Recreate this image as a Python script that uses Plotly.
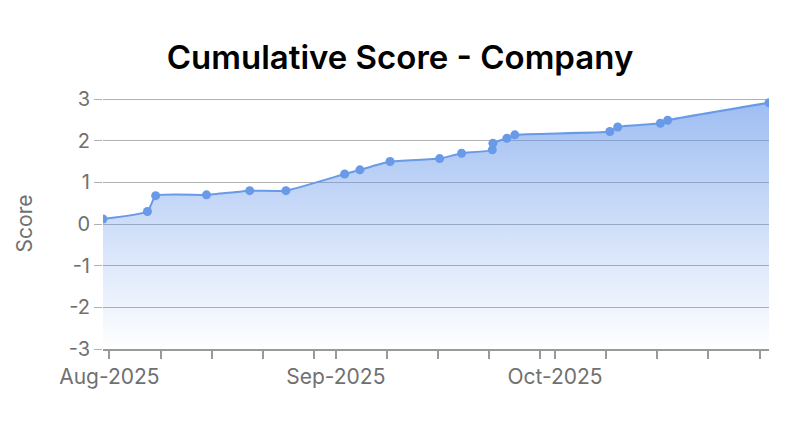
import plotly.graph_objects as go

# readings of the cumulative score
dates = ["2025-07-31 03:00", "2025-08-06 05:00", "2025-08-07 08:00", "2025-08-14 07:00",
         "2025-08-20 05:00", "2025-08-25 04:00", "2025-09-02 05:00", "2025-09-04 07:00",
         "2025-09-08 10:00", "2025-09-15 05:00", "2025-09-18 05:00", "2025-09-22 10:00",
         "2025-09-22 12:00", "2025-09-24 10:00", "2025-09-25 12:00", "2025-10-08 12:00",
         "2025-10-09 14:00", "2025-10-15 10:00", "2025-10-16 10:00", "2025-10-30 07:00"]
scores = [0.12, 0.3, 0.68, 0.7, 0.8, 0.8, 1.2, 1.3, 1.5, 1.57,
          1.7, 1.78, 1.94, 2.06, 2.14, 2.22, 2.33, 2.42, 2.49, 2.91]

# axis ticks: weekly marks, label only on the first of month
tick_dates = ["2025-08-01", "2025-08-08", "2025-08-15", "2025-08-22", "2025-08-29",
              "2025-09-01", "2025-09-08", "2025-09-15", "2025-09-22", "2025-09-29",
              "2025-10-01", "2025-10-08", "2025-10-15", "2025-10-22", "2025-10-29"]
tick_text = ["Aug-2025", "", "", "", "",
             "Sep-2025", "", "", "", "",
             "Oct-2025", "", "", "", ""]
y_ticks = [-3, -2, -1, 0, 1, 2, 3]
y_ticktext = ["-3", "-2", "-1", "0", "1", "2", "3"]

blue = "rgb(104,154,232)"

fig = go.Figure()
fig.add_trace(go.Scatter(x=dates, y=[y_ticks[0]] * len(dates), mode="lines",
                         line=dict(width=0), hoverinfo="skip", showlegend=False))
fig.add_trace(go.Scatter(
    x=dates, y=scores, mode="lines+markers",
    line=dict(color=blue, width=2, shape="spline", smoothing=0.4),
    marker=dict(color=blue, size=9),
    fill="tonexty",
    fillgradient=dict(type="vertical",
                      colorscale=[[0, "rgba(100,150,235,0)"], [1, "rgba(100,150,235,0.62)"]]),
    showlegend=False, name="Score"))

fig.update_layout(
    width=800, height=431,
    margin=dict(l=95, r=39, t=90, b=90),
    paper_bgcolor="white", plot_bgcolor="white",
    font=dict(family="Inter", color="#707070", size=21),
    title=dict(text="Cumulative Score - Company", x=0.49, xanchor="center",
               y=0.886, yanchor="middle",
               font=dict(family="Inter", size=33, color="#000000", weight=600)),
)
fig.update_xaxes(
    type="date", range=[dates[0], dates[-1]],
    tickvals=tick_dates, ticktext=tick_text,
    ticks="outside", ticklen=8, tickcolor="#999999", tickwidth=1.5,
    showline=True, linecolor="#999999", linewidth=1.5,
    showgrid=False, zeroline=False, automargin=False,
    tickfont=dict(size=21, color="#707070"),
)
fig.update_yaxes(
    range=[y_ticks[0], 3.025], tickvals=y_ticks, ticktext=y_ticktext,
    showgrid=True, gridcolor="#b0b0b0", gridwidth=1,
    ticks="outside", ticklen=8, tickcolor="#b0b0b0",
    zeroline=False, showline=False, automargin=False,
    title=dict(text="Score", font=dict(size=21, color="#707070"), standoff=30),
    tickfont=dict(size=20, color="#707070"),
)

fig.write_html("out.html")
